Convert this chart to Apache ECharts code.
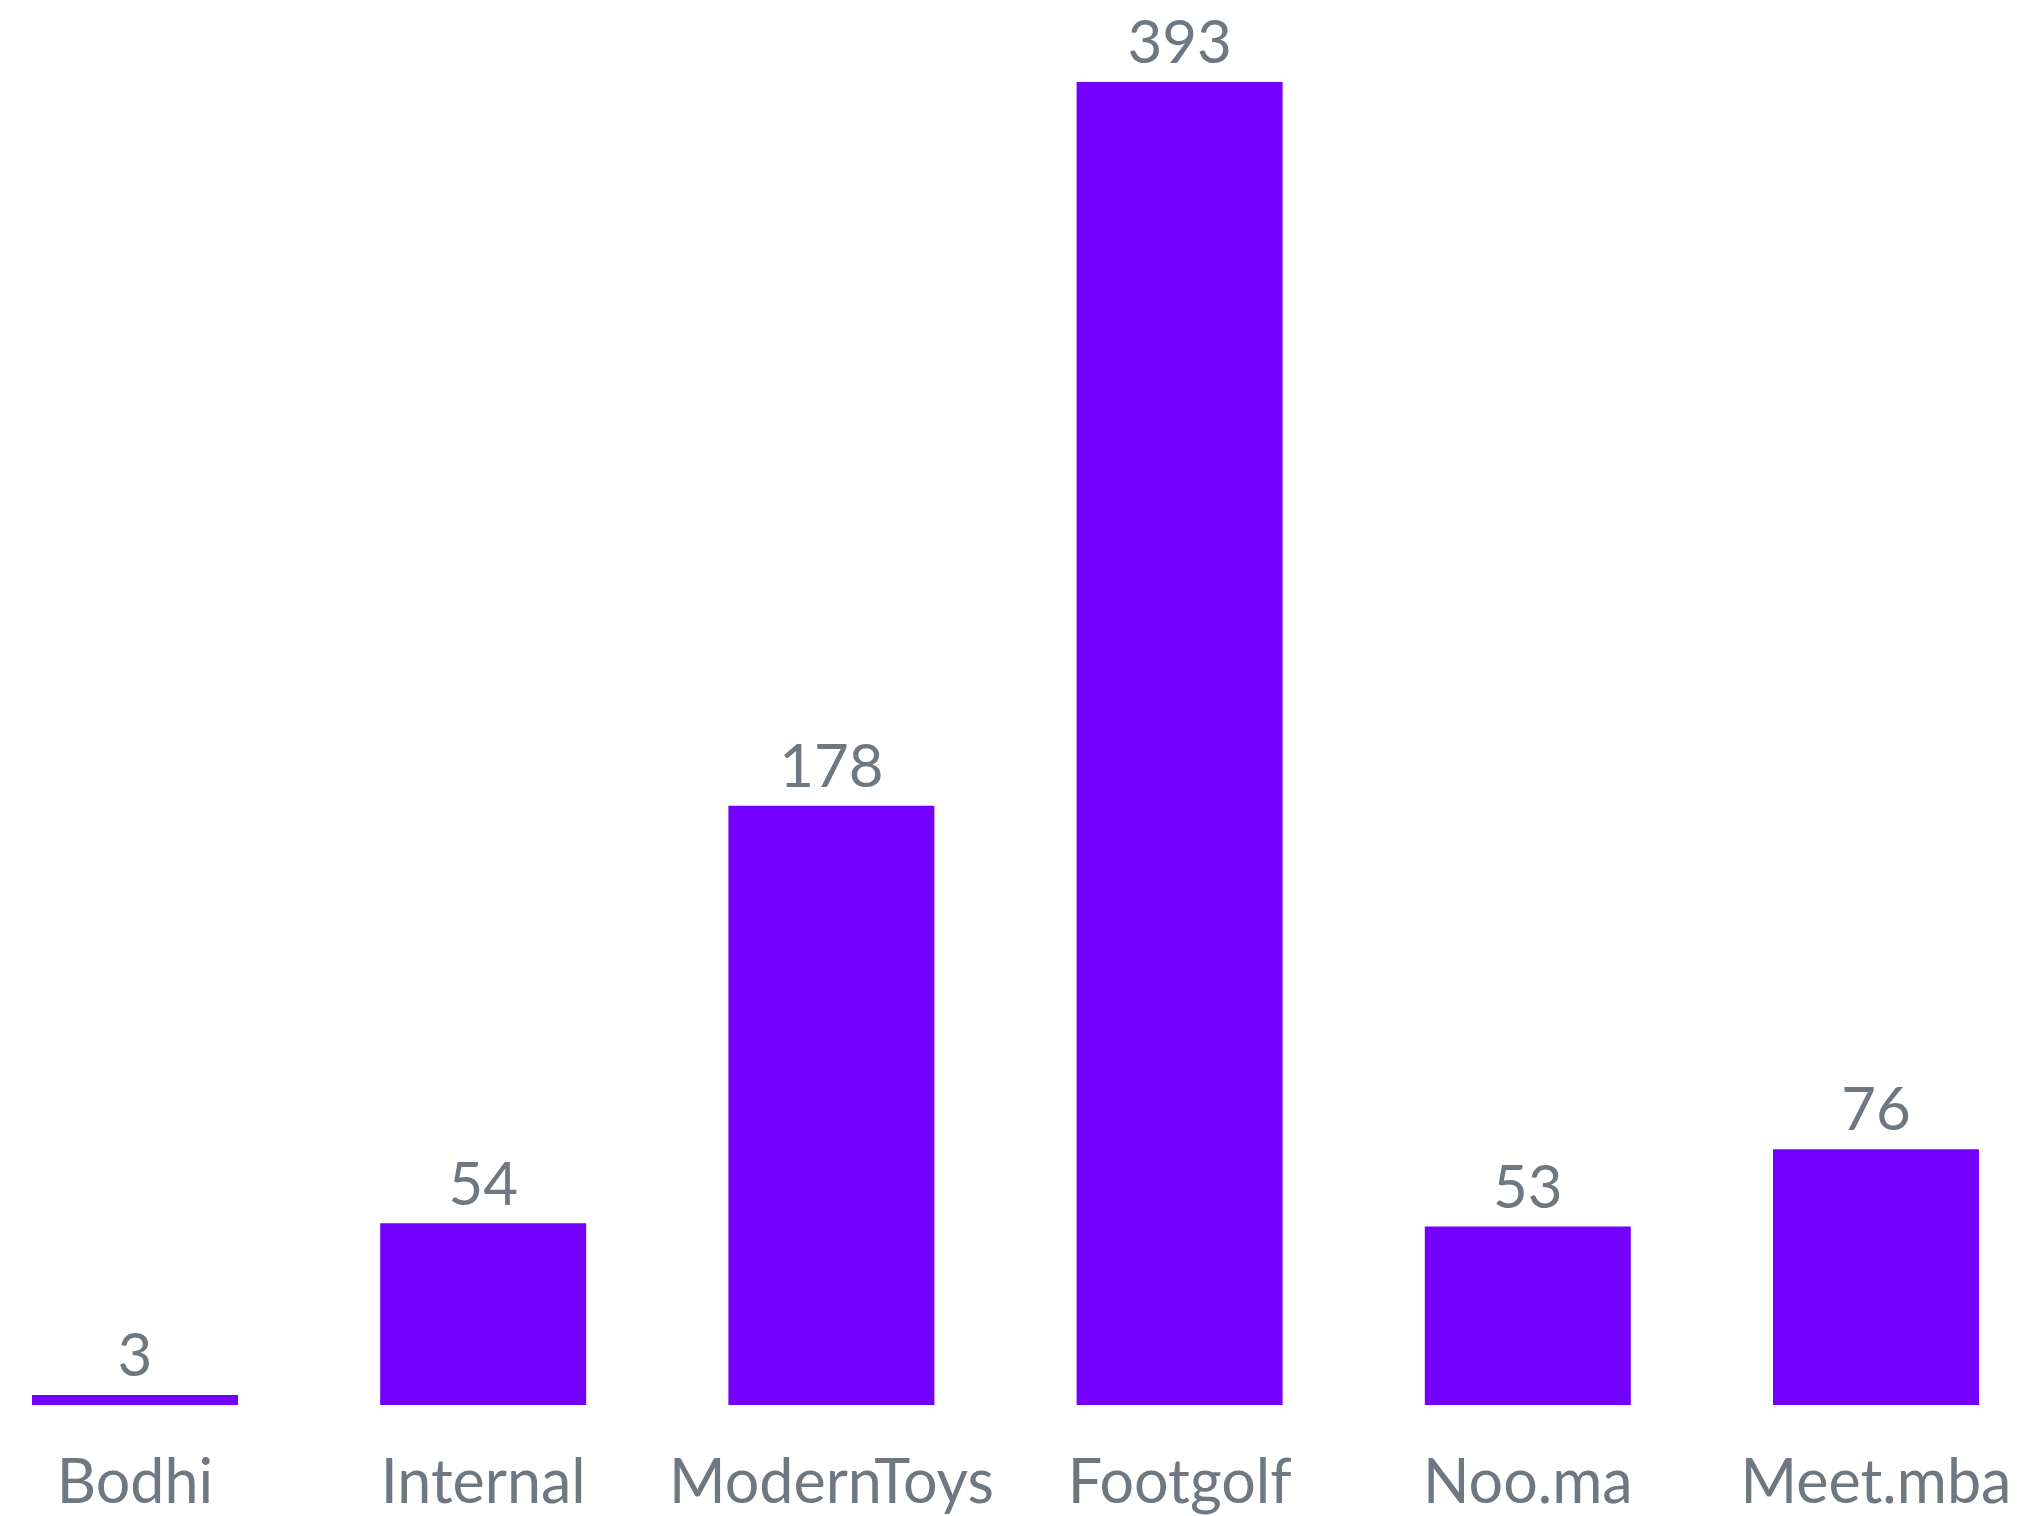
<!DOCTYPE html>
<html>
<head>
<meta charset="utf-8">
<script src="https://cdn.jsdelivr.net/npm/echarts@6/dist/echarts.min.js"></script>
<style>
html,body{margin:0;padding:0;background:#fff;}
#chart{width:2018px;height:1516px;}
</style>
</head>
<body>
<div id="chart"></div>
<script>
const categories = ["Bodhi", "Internal", "ModernToys", "Footgolf", "Noo.ma", "Meet.mba"];
const values = [3, 54, 178, 393, 53, 76];

const chart = echarts.init(document.getElementById('chart'));
chart.setOption({
  backgroundColor: '#ffffff',
  animation: false,
  grid: { left: 135, right: 142, top: 82, bottom: 111, containLabel: false },
  xAxis: {
    type: 'category',
    data: categories,
    boundaryGap: false,
    axisLine: { show: false },
    axisTick: { show: false },
    axisLabel: { interval: 0, hideOverlap: false, color: '#6f7780', fontSize: 61, fontFamily: 'Lato', margin: 48 }
  },
  yAxis: {
    type: 'value',
    min: 0,
    max: 393,
    show: false,
    splitLine: { show: false }
  },
  series: [{
    type: 'bar',
    data: values,
    barWidth: 206,
    itemStyle: { color: '#7300ff' },
    label: { show: true, position: 'top', distance: 8, color: '#6f7780', fontSize: 60, fontFamily: 'Lato' }
  }]
});
</script>
</body>
</html>
